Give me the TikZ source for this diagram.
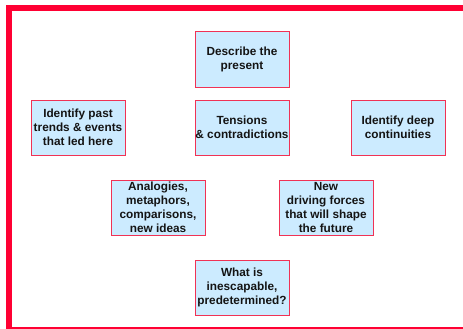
\documentclass[tikz,border=0pt]{standalone}
\usepackage{fontspec}
\setmainfont{Liberation Sans}
\definecolor{framered}{RGB}{255,0,51}
\definecolor{boxedge}{RGB}{240,50,85}
\definecolor{boxfill}{RGB}{204,235,255}
\definecolor{ink}{RGB}{20,20,20}
\begin{document}
\begin{tikzpicture}[x=1pt,y=-1pt,
  idea/.style={draw=boxedge, line width=1pt, fill=boxfill,
    minimum width=94pt, minimum height=55pt, inner sep=0pt,
    align=center, text=ink,
    font=\fontsize{11.8pt}{14pt}\selectfont\bfseries},
  rim/.style={draw=framered, line cap=butt}]
\useasboundingbox (0,0) rectangle (463,329);
% outer frame: heavy top and left edges, light bottom edge
\draw[rim, line width=5.5pt] (8.8,329) -- (8.8,7.8) -- (463,7.8);
\draw[rim, line width=1.4pt] (6,328) -- (463,328);
% idea boxes
\node[idea] (present) at (242,59.5) {Describe the\\present};
\node[idea] (tensions) at (242,127.5) {Tensions\\\& contradictions};
\node[idea] (past) at (78,127.5) {Identify past\\trends \& events\\that led here};
\node[idea] (deep) at (398,127.5) {Identify deep\\continuities};
\node[idea] (analogies) at (158,207.5) {Analogies,\\metaphors,\\comparisons,\\new ideas};
\node[idea] (forces) at (326,207.5) {New\\driving forces\\that will shape\\the future};
\node[idea] (inescapable) at (242,287.5) {What is\\inescapable,\\predetermined?};
\end{tikzpicture}
\end{document}
